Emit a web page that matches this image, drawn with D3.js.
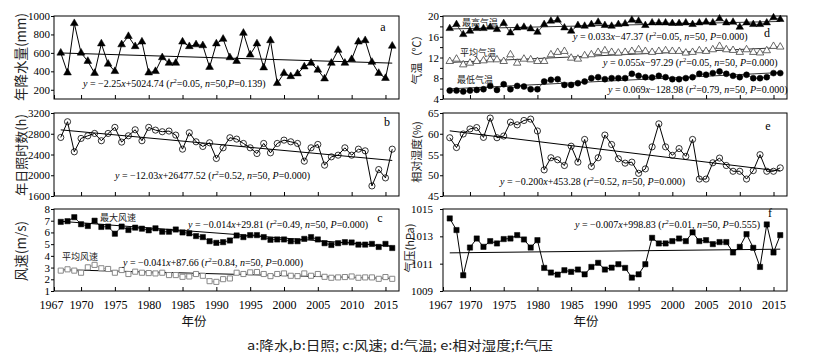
<!DOCTYPE html>
<html><head><meta charset="utf-8">
<script src="https://cdn.jsdelivr.net/npm/d3@7"></script>
<style>body{margin:0;background:#fff} svg{display:block}
.tk text{font-family:"Liberation Serif","Times New Roman",serif !important;}
</style>
</head><body>
<svg id="c" width="813" height="356"></svg>
<script>
// ---------------- data ----------------
const years = d3.range(1967, 2017);
const xTickVals = [1966,1970,1975,1980,1985,1990,1995,2000,2005,2010,2015];
const xTickLabels = ['1967','1970','1975','1980','1985','1990','1995','2000','2005','2010','2015'];

const precip = [600,385,920,600,510,380,700,480,400,690,780,670,720,385,400,550,490,490,720,670,690,680,445,700,750,550,510,815,580,700,440,735,270,380,345,375,450,490,415,320,490,630,490,530,720,735,500,380,325,675];
const sunshine = [2729,3032,2452,2710,2760,2806,2665,2806,2923,2639,2761,2877,2665,2923,2870,2839,2852,2774,2503,2819,2645,2555,2626,2323,2529,2723,2697,2613,2529,2419,2613,2432,2613,2677,2645,2613,2271,2529,2594,2194,2355,2387,2529,2387,2503,2471,1794,2110,1949,2503];
const windMax = [6.9,6.96,7.3,6.7,6.55,7.0,6.47,6.5,5.89,6.5,6.21,6.41,6.32,6.18,6.35,6.06,6.06,6.25,6.0,5.92,5.69,5.6,5.25,5.11,5.17,5.31,5.74,5.6,5.77,5.77,5.6,5.37,5.4,5.4,5.25,5.25,5.45,5.6,5.4,5.08,4.93,5.08,5.17,5.14,4.96,4.96,5.02,4.76,5.02,4.67];
const windMean = [2.74,2.85,2.74,2.56,3.02,3.23,2.94,2.88,2.56,2.79,2.45,2.65,2.56,2.53,2.5,2.56,2.36,2.36,2.21,2.24,2.45,2.3,1.84,1.78,2.01,2.07,2.56,2.45,2.59,2.62,2.45,2.27,2.45,2.5,2.3,2.27,2.5,2.3,2.45,2.21,2.13,2.16,2.19,2.24,2.13,2.16,2.16,2.04,2.19,2.04];
const tempMax = [17.6,18.38,16.44,17.09,17.6,17.6,17.86,17.41,18.58,16.76,17.73,17.86,17.54,16.89,18.38,19.03,19.22,17.73,17.09,18.19,18.06,18.38,18.83,18.19,18.06,18.38,18.51,19.22,19.03,18.19,18.7,18.7,18.7,18.58,18.58,18.7,18.38,18.7,18.83,18.7,19.48,18.7,18.83,17.86,18.7,18.38,18.38,18.7,19.68,19.35];
const tempMean = [11.26,11.71,10.61,10.93,11.26,11.39,11.58,11.58,11.26,12.55,10.93,11.71,11.58,11.26,11.26,12.55,13.01,13.2,11.9,11.71,12.36,12.55,13.01,13.33,13.01,12.88,13.01,13.2,13.52,13.2,13.01,13.2,13.33,13.2,13.2,12.88,13.01,13.33,13.2,13.52,14.17,13.52,13.39,13.01,13.52,13.01,12.9,13.33,14.17,14.04];
const tempMin = [5.62,5.62,5.43,5.62,5.75,5.88,6.53,5.75,6.85,5.88,6.53,6.4,5.88,5.88,7.37,7.69,7.82,6.72,6.72,7.05,7.37,8.02,8.21,7.82,8.02,8.02,8.02,8.86,8.47,8.21,8.15,8.47,8.21,7.82,7.82,8.02,8.21,8.86,8.67,8.99,9.31,8.86,8.47,8.21,8.67,8.02,8.02,8.21,8.99,8.99];
const humidity = [59.04,56.67,59.94,61.16,61.49,59.12,63.78,59.04,59.45,62.8,62.14,63.2,63.53,60.67,51.29,54.22,53.73,52.35,57.0,53.16,58.63,52.1,54.22,59.69,57.41,53.98,52.92,53.16,50.47,51.53,56.84,62.39,56.84,54.8,56.43,54.55,58.63,49.08,49.08,53.0,54.14,52.35,50.96,50.96,49.08,51.12,54.96,50.96,50.96,51.78];
const pressure = [1014.31,1013.46,1010.15,1012.18,1012.84,1012.23,1012.65,1012.48,1012.8,1012.84,1013.09,1012.77,1012.18,1012.72,1010.69,1010.35,1010.2,1010.52,1010.4,1010.57,1010.22,1010.76,1011.06,1010.57,1010.71,1010.96,1010.69,1009.98,1010.22,1010.96,1012.89,1012.48,1012.48,1012.65,1012.84,1012.65,1013.29,1012.65,1012.72,1012.43,1012.58,1012.58,1011.82,1012.23,1013.16,1012.16,1010.76,1013.87,1011.82,1013.09];

// linear trends as drawn: value at first and last year
const trendYears = [1967, 2016];
const trendPrecip = [599, 489];
const trendSun = [2875, 2285];
const trendWindMax = [6.95, 4.82];
const trendWindMean = [2.82, 2.07];
const trendTmax = [17.5, 18.95];
const trendTmean = [11.05, 13.9];
const trendTmin = [5.95, 9.1];
const trendHum = [60.7, 51.0];
const trendPres = [1011.79, 1012.06];

// y tick values
const ticksA = [200,400,600,800,1000];
const ticksB = [1600,2000,2400,2800,3200];
const ticksC = [1,2,3,4,5,6,7,8];
const ticksD = [4,6,8,10,12,14,16,18,20];
const ticksE = [45,50,55,60,65];
const ticksF = [1009,1011,1013,1015];

// ---------------- drawing ----------------
const svg = d3.select('#c');
const serif = '"Liberation Serif","Times New Roman",serif';
const cjk = '"Noto Sans CJK SC","Noto Sans CJK JP",sans-serif';
const cols = [[54,399],[443,787]];
const rows = [[16,99],[113,196],[209,291]];

function panel(col,row,domain,ticks,fmt,pad){
  const [x0,x1] = cols[col], [y0,y1] = rows[row];
  const x = d3.scaleLinear().domain([1966,2017]).range([x0,x1]);
  const y = d3.scaleLinear().domain(domain).range([y1,y0]);
  const g = svg.append('g');
  const ya = g.append('g').attr('class','tk').attr('transform',`translate(${x0},0)`)
    .call(d3.axisLeft(y).tickValues(ticks).tickSize(3).tickPadding(pad||1).tickFormat(fmt || (d=>d)));
  ya.attr('font-family',null);
  ya.select('.domain').remove();
  ya.selectAll('text').style('font-family',serif).attr('font-size',11).attr('fill','#000');
  const xa = g.append('g').attr('class','tk').attr('transform',`translate(0,${y1})`)
    .call(d3.axisBottom(x).tickValues(xTickVals).tickSize(-4)
      .tickFormat(row===2 ? ((d,i)=>xTickLabels[i]) : ''));
  xa.attr('font-family',null);
  xa.select('.domain').remove();
  xa.selectAll('text').style('font-family',serif).attr('font-size',12).attr('fill','#000').attr('y',9);
  xa.selectAll('text').filter((d,i)=>i===0).attr('dx',-3);
  g.append('rect').attr('x',x0).attr('y',y0).attr('width',x1-x0).attr('height',y1-y0)
    .attr('fill','none').attr('stroke','#000').attr('stroke-width',1);
  return {x,y,g};
}

function trend(P,vals,color){
  P.g.append('line').attr('x1',P.x(trendYears[0])).attr('x2',P.x(trendYears[1]))
    .attr('y1',P.y(vals[0])).attr('y2',P.y(vals[1]))
    .attr('stroke',color||'#000').attr('stroke-width',1);
}

function series(P,vals,o){
  const line = d3.line().x((d,i)=>P.x(years[i])).y(d=>P.y(d));
  P.g.append('path').attr('d',line(vals)).attr('fill','none')
    .attr('stroke',o.lineColor||'#000').attr('stroke-width',o.lw||1);
  const sym = d3.symbol().type(o.type).size(o.size);
  P.g.selectAll(null).data(vals).enter().append('path')
    .attr('d',sym).attr('transform',(d,i)=>`translate(${P.x(years[i])},${P.y(d)})`)
    .attr('fill',o.fill).attr('stroke',o.stroke).attr('stroke-width',o.sw||1);
}

function eq(x,y,markup,size){
  size = size || 10;
  const t = svg.append('text').attr('x',x).attr('y',y).style('font-family',serif)
    .attr('font-size',size).attr('fill','#000');
  // *...* italic, ^...^ superscript
  let italic=false, sup=false, buf='', restore=false;
  const flush=()=>{
    if(!buf) return;
    const s=t.append('tspan').text(buf);
    if(italic) s.attr('font-style','italic');
    if(sup) s.attr('font-size',size*0.65).attr('dy',-4);
    if(restore){ s.attr('dy',4); restore=false; }
    buf='';
  };
  for(const ch of markup){
    if(ch==='*'){flush(); italic=!italic; continue;}
    if(ch==='^'){ flush(); if(sup){sup=false; restore=true;} else sup=true; continue; }
    buf+=ch;
  }
  flush();
}

function label(x,y,txt,size,anchor,family,color,len){
  const t = svg.append('text').attr('x',x).attr('y',y).text(txt)
    .style('font-family',family||cjk).attr('font-size',size)
    .attr('text-anchor',anchor||'start').attr('fill',color||'#000');
  if(len) t.attr('textLength',len).attr('lengthAdjust','spacingAndGlyphs');
}
function vtitle(x,y,txt,size){
  svg.append('text').attr('transform',`translate(${x},${y}) rotate(-90)`)
    .attr('text-anchor','middle').attr('dominant-baseline','central')
    .style('font-family',cjk).attr('font-size',size).attr('fill','#222').text(txt);
}

// a: precipitation
const A = panel(0,0,[100,1000],ticksA);
trend(A,trendPrecip);
series(A,precip,{type:d3.symbolTriangle,size:26,fill:'#000',stroke:'#000',sw:0.5});
// b: sunshine
const B = panel(0,1,[1600,3200],ticksB);
trend(B,trendSun);
series(B,sunshine,{type:d3.symbolCircle,size:30,fill:'none',stroke:'#000',sw:0.8});
// c: wind
const C = panel(0,2,[1,8],ticksC);
trend(C,trendWindMax);
trend(C,trendWindMean);
series(C,windMax,{type:d3.symbolSquare,size:28,fill:'#000',stroke:'#000',sw:0.5,lw:0.8});
series(C,windMean,{type:d3.symbolSquare,size:26,fill:'#fff',stroke:'#888',sw:1,lw:0.8,lineColor:'#999'});
// d: temperature
const D = panel(1,0,[4,20],ticksD,d=>d%4===0?d:'');
trend(D,trendTmax,'#333');
trend(D,trendTmean,'#333');
trend(D,trendTmin,'#333');
series(D,tempMax,{type:d3.symbolTriangle,size:24,fill:'#000',stroke:'#000',sw:0.5,lw:0.7});
series(D,tempMean,{type:d3.symbolTriangle,size:24,fill:'#fff',stroke:'#444',sw:0.8,lw:0.7,lineColor:'#666'});
series(D,tempMin,{type:d3.symbolCircle,size:28,fill:'#000',stroke:'#000',sw:0.5,lw:0.7});
// e: humidity
const E = panel(1,1,[45,65],ticksE);
trend(E,trendHum);
series(E,humidity,{type:d3.symbolCircle,size:30,fill:'none',stroke:'#000',sw:0.8});
// f: pressure
const F = panel(1,2,[1009,1015],ticksF,null,7);
trend(F,trendPres);
series(F,pressure,{type:d3.symbolSquare,size:28,fill:'#000',stroke:'#000',sw:0.5});

// equations
eq(83,87,'*y* = −2.25*x*+5024.74 (*r*^2^=0.05, *n*=50,*P*=0.139)');
eq(115,179,'*y* = −12.03*x*+26477.52 (*r*^2^=0.52, *n*=50, *P*=0.000)');
eq(188,228,'*y* = −0.014*x*+29.81 (*r*^2^=0.49, *n*=50, *P*=0.000)');
eq(123,266,'*y* = −0.041*x*+87.66 (*r*^2^=0.84, *n*=50, *P*=0.000)');
eq(573,40,'*y* = 0.033*x*−47.37 (*r*^2^=0.05, *n*=50, *P*=0.000)');
eq(603,66,'*y* = 0.055*x*−97.29 (*r*^2^=0.05, *n*=50, *P*=0.000)');
eq(608,93,'*y* = 0.069*x*−128.98 (*r*^2^=0.79, *n*=50, *P*=0.000)');
eq(500,185,'*y* = −0.200*x*+453.28 (*r*^2^=0.52, *n*=50, *P*=0.000)');
eq(575,228,'*y* = −0.007*x*+998.83 (*r*^2^=0.01, *n*=50, *P*=0.555)');

// panel letters
label(383,31,'a',12,'middle',serif);
label(387,126,'b',12,'middle',serif);
label(380,222,'c',12,'middle',serif);
label(767,37,'d',12,'middle',serif);
label(768,130,'e',12,'middle',serif);
label(770,217,'f',12,'middle',serif);

// in-plot series labels
label(100,221,'最大风速',9,'start',cjk,'#222');
label(62,260,'平均风速',9,'start',cjk,'#222');
label(462,26,'最高气温',9,'start',cjk,'#222');
label(460,56,'平均气温',9,'start',cjk,'#222');
label(457,83,'最低气温',9,'start',cjk,'#222');

// axis titles
vtitle(20,57,'年降水量(mm)',13.5);
vtitle(20,155,'年日照时数(h)',13);
vtitle(20,251,'风速(m/s)',13.5);
vtitle(416,57,'气温（℃）',11);
vtitle(416,152,'相对湿度(%)',11);
vtitle(409,248,'气压(hPa)',11);
label(194,326,'年份',12.5,'middle',cjk,'#111');
label(586,326,'年份',12.5,'middle',cjk,'#111');

// caption
label(400,350,'a:降水,b:日照; c:风速; d:气温; e:相对湿度;f:气压',13,'middle',cjk,'#222',306);
</script>
</body></html>
